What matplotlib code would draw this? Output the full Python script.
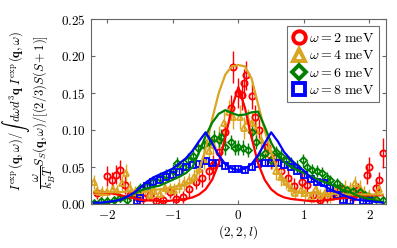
import matplotlib
matplotlib.use("Agg")
import matplotlib.pyplot as plt
from matplotlib.lines import Line2D

plt.rcParams['mathtext.fontset'] = 'cm'
plt.rcParams['font.family'] = 'serif'
plt.rcParams['font.serif'] = ['DejaVu Serif']

# model curves, sampled every 0.1 in l
l_grid = [round(-2.2 + 0.1 * i, 1) for i in range(45)]
fit_2 = [0.016, 0.016, 0.015, 0.014, 0.012, 0.010, 0.008, 0.006, 0.005, 0.005,
         0.004, 0.004, 0.005, 0.006, 0.007, 0.009, 0.013, 0.020, 0.033, 0.055,
         0.090, 0.130, 0.158, 0.130, 0.090, 0.055, 0.033, 0.020, 0.013, 0.009,
         0.007, 0.006, 0.005, 0.004, 0.004, 0.005, 0.006, 0.007, 0.008, 0.009,
         0.010, 0.011, 0.012, 0.012, 0.012]
fit_4 = [0.017, 0.016, 0.016, 0.016, 0.016, 0.017, 0.017, 0.018, 0.018, 0.019,
         0.020, 0.021, 0.023, 0.025, 0.027, 0.030, 0.045, 0.075, 0.115, 0.150,
         0.175, 0.186, 0.188, 0.186, 0.170, 0.135, 0.100, 0.070, 0.045, 0.028,
         0.020, 0.017, 0.015, 0.015, 0.014, 0.014, 0.014, 0.014, 0.013, 0.013,
         0.013, 0.013, 0.013, 0.013, 0.013]
fit_6 = [0.000, 0.001, 0.002, 0.004, 0.007, 0.010, 0.014, 0.018, 0.021, 0.023,
         0.025, 0.029, 0.033, 0.037, 0.042, 0.050, 0.070, 0.092, 0.110, 0.122,
         0.127, 0.123, 0.120, 0.121, 0.124, 0.125, 0.105, 0.083, 0.067, 0.057,
         0.050, 0.046, 0.042, 0.038, 0.034, 0.030, 0.027, 0.023, 0.019, 0.016,
         0.012, 0.009, 0.007, 0.005, 0.003]
fit_8 = [0.002, 0.002, 0.003, 0.004, 0.006, 0.010, 0.015, 0.022, 0.030, 0.036,
         0.040, 0.044, 0.048, 0.055, 0.062, 0.072, 0.085, 0.097, 0.082, 0.066,
         0.054, 0.048, 0.046, 0.048, 0.054, 0.066, 0.082, 0.097, 0.085, 0.070,
         0.060, 0.052, 0.045, 0.036, 0.030, 0.025, 0.020, 0.016, 0.012, 0.009,
         0.006, 0.005, 0.004, 0.003, 0.002]

# measured points
l_2 = [-2.15, -2.0, -1.93, -1.87, -1.81, -1.73, -1.65, -1.55, -1.45, -1.35,
       -1.25, -1.15, -1.05, -0.95, -0.85, -0.75, -0.65, -0.55, -0.45, -0.38,
       -0.3, -0.2, -0.12, -0.08, 0.0, 0.05, 0.08, 0.11, 0.2, 0.25,
       0.32, 0.43, 0.5, 0.58, 0.65, 0.75, 0.85, 0.97, 1.05, 1.14,
       1.25, 1.35, 1.45, 1.55, 1.65, 1.75, 1.83, 1.96, 2.0, 2.1,
       2.15, 2.2]
y_2 = [0.015, 0.038, 0.032, 0.040, 0.046, 0.026, 0.012, 0.010, 0.008, 0.012,
       0.004, 0.005, 0.016, 0.007, 0.010, 0.020, 0.030, 0.035, 0.045, 0.053,
       0.070, 0.097, 0.130, 0.185, 0.150, 0.147, 0.163, 0.174, 0.146, 0.118,
       0.100, 0.077, 0.060, 0.063, 0.045, 0.035, 0.025, 0.030, 0.026, 0.012,
       0.005, 0.010, 0.015, 0.020, 0.015, 0.010, 0.019, 0.039, 0.050, 0.022,
       0.032, 0.069]
e_2 = [0.008, 0.014, 0.012, 0.013, 0.014, 0.012, 0.008, 0.008, 0.008, 0.008,
       0.007, 0.007, 0.008, 0.008, 0.008, 0.010, 0.010, 0.012, 0.012, 0.013,
       0.014, 0.015, 0.017, 0.022, 0.020, 0.020, 0.020, 0.020, 0.018, 0.016,
       0.015, 0.014, 0.013, 0.013, 0.012, 0.012, 0.010, 0.012, 0.011, 0.009,
       0.008, 0.008, 0.009, 0.010, 0.010, 0.009, 0.010, 0.012, 0.014, 0.012,
       0.012, 0.020]

l_4 = [-2.2, -2.15, -2.08, -2.0, -1.92, -1.85, -1.78, -1.72, -1.65, -1.58,
       -1.5, -1.42, -1.35, -1.28, -1.2, -1.12, -1.05, -0.98, -0.9, -0.83,
       -0.75, -0.68, -0.6, -0.52, -0.45, -0.38, -0.3, -0.22, -0.15, -0.08,
       0.02, 0.09, 0.15, 0.2, 0.27, 0.35, 0.45, 0.52, 0.58, 0.65,
       0.73, 0.8, 0.87, 0.95, 1.02, 1.1, 1.18, 1.25, 1.32, 1.4,
       1.48, 1.55, 1.62, 1.7, 1.78, 1.85, 1.92, 2.0, 2.08, 2.15]
y_4 = [0.030, 0.018, 0.017, 0.016, 0.020, 0.018, 0.028, 0.042, 0.022, 0.016,
       0.015, 0.020, 0.012, 0.018, 0.014, 0.022, 0.020, 0.019, 0.025, 0.028,
       0.032, 0.037, 0.048, 0.060, 0.072, 0.080, 0.090, 0.110, 0.125, 0.118,
       0.118, 0.103, 0.112, 0.110, 0.100, 0.086, 0.073, 0.060, 0.045, 0.036,
       0.030, 0.022, 0.015, 0.019, 0.015, 0.010, 0.020, 0.012, 0.015, 0.010,
       0.018, 0.012, 0.022, 0.020, 0.028, 0.022, 0.015, 0.012, 0.010, 0.020]
e_4 = [0.010, 0.008, 0.008, 0.008, 0.008, 0.008, 0.010, 0.012, 0.009, 0.008,
       0.008, 0.009, 0.008, 0.008, 0.008, 0.009, 0.009, 0.009, 0.010, 0.010,
       0.010, 0.011, 0.012, 0.013, 0.014, 0.014, 0.015, 0.016, 0.016, 0.016,
       0.016, 0.015, 0.016, 0.016, 0.015, 0.014, 0.013, 0.013, 0.012, 0.011,
       0.010, 0.010, 0.009, 0.009, 0.008, 0.008, 0.009, 0.008, 0.008, 0.008,
       0.009, 0.008, 0.010, 0.010, 0.010, 0.010, 0.009, 0.008, 0.008, 0.009]

l_6 = [-2.2, -2.1, -2.0, -1.9, -1.8, -1.7, -1.6, -1.5, -1.4, -1.3,
       -1.2, -1.1, -1.0, -0.93, -0.85, -0.77, -0.7, -0.62, -0.53, -0.45,
       -0.37, -0.3, -0.27, -0.2, -0.12, -0.05, 0.0, 0.07, 0.15, 0.21,
       0.27, 0.33, 0.4, 0.5, 0.58, 0.65, 0.73, 0.8, 0.9, 0.99,
       1.05, 1.12, 1.2, 1.27, 1.35, 1.4, 1.5, 1.58, 1.65, 1.75,
       1.86, 1.93, 2.0, 2.1, 2.2]
y_6 = [0.002, 0.004, 0.004, 0.006, 0.008, 0.006, 0.012, 0.022, 0.025, 0.030,
       0.035, 0.040, 0.045, 0.055, 0.050, 0.060, 0.065, 0.076, 0.080, 0.085,
       0.090, 0.087, 0.091, 0.077, 0.084, 0.076, 0.077, 0.076, 0.073, 0.097,
       0.084, 0.063, 0.069, 0.060, 0.070, 0.065, 0.060, 0.055, 0.050, 0.059,
       0.050, 0.046, 0.045, 0.042, 0.035, 0.032, 0.028, 0.022, 0.019, 0.018,
       0.016, 0.012, 0.010, 0.007, 0.005]
e_6 = [0.004, 0.004, 0.004, 0.005, 0.005, 0.005, 0.006, 0.007, 0.007, 0.008,
       0.008, 0.008, 0.009, 0.009, 0.009, 0.009, 0.009, 0.010, 0.010, 0.010,
       0.010, 0.010, 0.010, 0.010, 0.010, 0.010, 0.010, 0.010, 0.010, 0.010,
       0.010, 0.010, 0.010, 0.009, 0.009, 0.009, 0.009, 0.009, 0.009, 0.009,
       0.008, 0.008, 0.008, 0.008, 0.008, 0.007, 0.007, 0.006, 0.006, 0.006,
       0.005, 0.005, 0.005, 0.004, 0.004]

l_8 = [-1.55, -1.5, -1.4, -1.3, -1.2, -1.1, -1.0, -0.9, -0.8, -0.7,
       -0.6, -0.5, -0.4, -0.3, -0.2, -0.1, 0.0, 0.1, 0.2, 0.3,
       0.4, 0.5, 0.6, 0.7, 0.8, 0.9, 1.0, 1.1, 1.2, 1.3,
       1.4, 1.5, 1.6, 1.7, 1.9, 2.0]
y_8 = [0.004, 0.008, 0.025, 0.030, 0.033, 0.036, 0.040, 0.044, 0.050, 0.053,
       0.054, 0.058, 0.056, 0.055, 0.052, 0.048, 0.047, 0.046, 0.050, 0.054,
       0.055, 0.056, 0.055, 0.053, 0.050, 0.045, 0.040, 0.034, 0.030, 0.028,
       0.022, 0.012, 0.006, 0.004, 0.004, 0.004]
e_8 = [0.004] * len(l_8)

series = [
    (l_2, y_2, e_2, fit_2, 'red', 'o', 4.5, r'$\omega = 2\ \mathrm{meV}$'),
    (l_4, y_4, e_4, fit_4, 'goldenrod', '^', 5.0, r'$\omega = 4\ \mathrm{meV}$'),
    (l_6, y_6, e_6, fit_6, 'green', 'D', 3.5, r'$\omega = 6\ \mathrm{meV}$'),
    (l_8, y_8, e_8, fit_8, 'blue', 's', 5.0, r'$\omega = 8\ \mathrm{meV}$'),
]

fig = plt.figure(figsize=(3.97, 2.48), dpi=100)
ax = fig.add_axes([0.229, 0.177, 0.743, 0.746])

handles = []
for lx, ly, le, fit, col, mk, ms, lab in series:
    ax.errorbar(lx, ly, yerr=le, fmt=mk, color=col, mfc='none', mec=col,
                ms=ms, mew=1.3, elinewidth=1.0, capsize=0, zorder=2)
    ax.plot(l_grid, fit, '-', color=col, lw=1.6, zorder=3)
    handles.append(Line2D([], [], marker=mk, color=col, ls='none', mfc='none',
                          ms=9 if mk != 'D' else 7.5, mew=2.8, label=lab))

ax.set_xlim(-2.25, 2.25)
ax.set_ylim(0, 0.25)
xt = [-2, -1, 0, 1, 2]
yt = [0.0, 0.05, 0.10, 0.15, 0.20, 0.25]
ax.set_xticks(xt)
ax.set_xticklabels([r'$%d$' % v if v >= 0 else r'$-%d$' % -v for v in xt])
ax.set_yticks(yt)
ax.set_yticklabels([r'$%.2f$' % v for v in yt])
ax.tick_params(direction='in', top=True, right=True, labelsize=9.5, length=3,
               color='0.4')
for sp in ax.spines.values():
    sp.set_color('0.4')

ax.set_xlabel(r'$(2,2,l)$', fontsize=9.5, labelpad=1)
ax.set_ylabel(r'$I^{\exp}(\mathbf{q},\omega)/\int\ d\omega d^3\mathbf{q}\ I^{\exp}(\mathbf{q},\omega)$'
              '\n'
              r'$\dfrac{\omega}{k_BT}S_S(\mathbf{q},\omega)/[(2/3)S(S+1)]$',
              fontsize=9, labelpad=2, linespacing=1.0)

leg = ax.legend(handles=handles, loc='upper right', fontsize=10, frameon=True,
                fancybox=False, handletextpad=0.2, borderpad=0.35,
                labelspacing=0.25, handlelength=1.0, borderaxespad=0.5)
leg.get_frame().set_edgecolor('0.3')
leg.get_frame().set_linewidth(0.8)

fig.savefig('out.png', dpi=100)
